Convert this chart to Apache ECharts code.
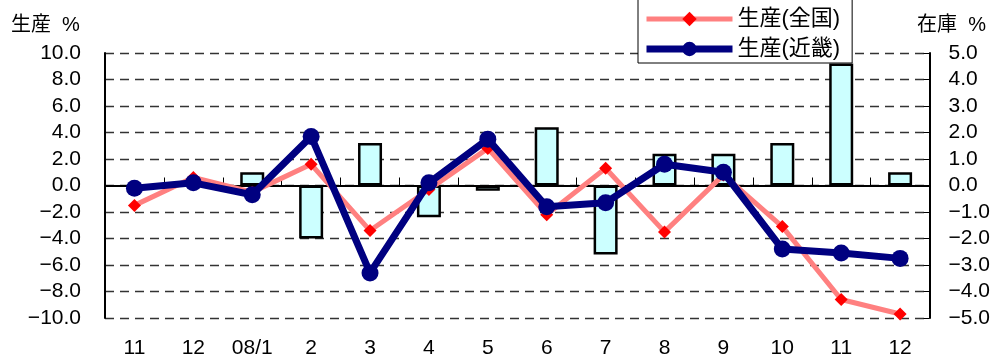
<!DOCTYPE html>
<html>
<head>
<meta charset="utf-8">
<script src="https://cdn.jsdelivr.net/npm/echarts@6/dist/echarts.min.js"></script>
<style>
  html, body { margin: 0; padding: 0; background: #fff; }
  #chart { width: 993px; height: 359px; }
</style>
</head>
<body>
<div id="chart"></div>
<script>
// Months (07/11 – 08/12)
const months = ['11', '12', '08/1', '2', '3', '4', '5', '6', '7', '8', '9', '10', '11', '12'];

// Production, year-on-year %, nationwide
const prodNational = [-1.5, 0.6, -0.5, 1.6, -3.4, -0.3, 2.8, -2.2, 1.3, -3.5, 0.8, -3.1, -8.6, -9.7];
// Production, year-on-year %, Kinki region
const prodKinki = [-0.2, 0.2, -0.7, 3.7, -6.6, 0.2, 3.5, -1.6, -1.3, 1.6, 1.0, -4.8, -5.1, -5.5];
// Inventory, year-on-year %, Kinki region (right axis)
const inventory = [null, null, 0.5, -2.0, 1.6, -1.2, -0.2, 2.2, -2.6, 1.2, 1.2, 1.6, 4.6, 0.5];

const seriesNames = ['生産(全国)', '生産(近畿)'];
const leftTitle = '生産  %';
const rightTitle = '在庫  %';

const FONT = '"Liberation Sans", "Noto Sans CJK JP", sans-serif';
const FS = 21;
const fmt = v => (v < 0 ? '\u2212' : '') + Math.abs(v).toFixed(1);

const RED_LINE = '#FF8080', RED_MARK = '#FF0000', NAVY = '#000080';

const chart = echarts.init(document.getElementById('chart'), null, { renderer: 'canvas' });

chart.setOption({
  animation: false,
  backgroundColor: '#fff',
  textStyle: { fontFamily: FONT, color: '#000' },
  title: [
    { text: leftTitle, left: 6, top: 10, textStyle: { fontFamily: FONT, fontSize: 20, fontWeight: 'normal', color: '#000' } },
    { text: rightTitle, right: 2, top: 10, textStyle: { fontFamily: FONT, fontSize: 20, fontWeight: 'normal', color: '#000' } }
  ],
  legend: {
    data: [
      { name: seriesNames[0], lineStyle: { color: RED_LINE, width: 5 }, itemStyle: { color: RED_MARK } },
      { name: seriesNames[1], lineStyle: { color: NAVY, width: 7 }, itemStyle: { color: NAVY } }
    ],
    orient: 'vertical',
    left: 638,
    top: -2,
    padding: [10, 12, 3, 5],
    itemWidth: 86,
    itemHeight: 18,
    itemGap: 8,
    backgroundColor: '#fff',
    borderColor: '#000',
    borderWidth: 1,
    borderRadius: 0,
    textStyle: { fontFamily: FONT, fontSize: 22, color: '#000' },
    z: 10
  },
  grid: { left: 105, right: 60, top: 53, bottom: 41, containLabel: false },
  xAxis: {
    type: 'category',
    data: months,
    boundaryGap: true,
    axisLine: { show: true, lineStyle: { color: '#000', width: 2 } },
    axisTick: { show: true, inside: true, length: 8, lineStyle: { color: '#000', width: 1 } },
    axisLabel: { margin: 20, fontSize: FS, color: '#000', fontFamily: FONT },
    splitLine: { show: false }
  },
  yAxis: [
    {
      type: 'value',
      min: -10, max: 10, interval: 2,
      axisLine: { show: true, lineStyle: { color: '#000', width: 2 } },
      axisTick: { show: false },
      axisLabel: { margin: 24, fontSize: FS, color: '#000', fontFamily: FONT, formatter: fmt },
      splitLine: { show: true, lineStyle: { color: '#333', width: 1.3, type: [9, 6] } }
    },
    {
      type: 'value',
      min: -5, max: 5, interval: 1,
      position: 'right',
      axisLine: { show: true, lineStyle: { color: '#000', width: 2 } },
      axisTick: { show: true, inside: true, length: 6, lineStyle: { color: '#000' } },
      axisLabel: { margin: 19, fontSize: FS, color: '#000', fontFamily: FONT, formatter: fmt },
      splitLine: { show: false }
    }
  ],
  series: [
    {
      name: '在庫',
      type: 'bar',
      yAxisIndex: 1,
      data: inventory,
      barWidth: 24,
      itemStyle: { color: '#CCFFFF', borderColor: '#000', borderWidth: 2.5 },
      z: 1
    },
    {
      name: seriesNames[0],
      type: 'line',
      data: prodNational,
      yAxisIndex: 0,
      symbol: 'diamond',
      symbolSize: 13,
      lineStyle: { color: RED_LINE, width: 5 },
      itemStyle: { color: RED_MARK },
      z: 3
    },
    {
      name: seriesNames[1],
      type: 'line',
      data: prodKinki,
      yAxisIndex: 0,
      symbol: 'circle',
      symbolSize: 17,
      lineStyle: { color: NAVY, width: 7 },
      itemStyle: { color: NAVY },
      z: 4
    }
  ]
});
</script>
</body>
</html>
